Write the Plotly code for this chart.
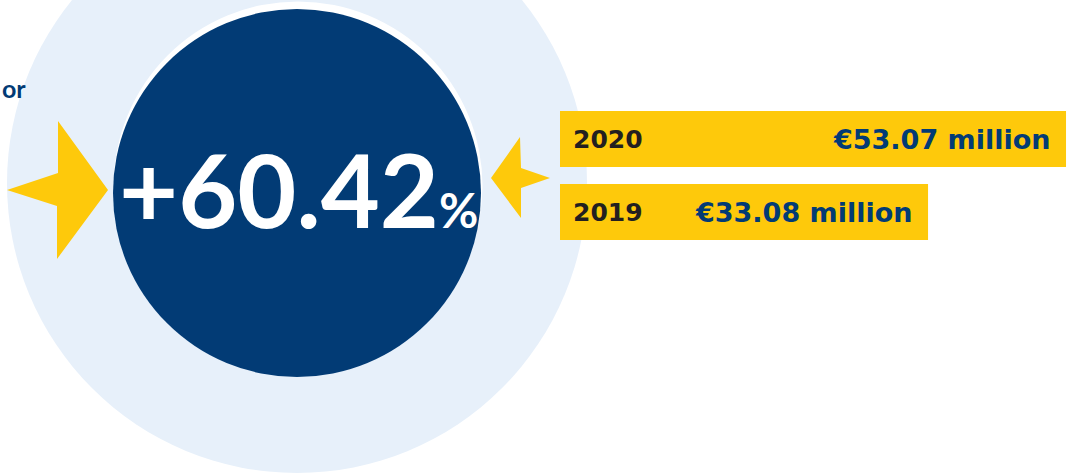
import plotly.graph_objects as go

# ---- data ----
years = ["2020", "2019"]
values = [53.07, 33.08]          # € million
growth_label = "+60.42"          # % change 2019 -> 2020
cut_text = "or"                  # cropped caption fragment at left

# ---- styling ----
W, H = 1067, 475
DARK_BLUE = "#023B75"
LIGHT_BLUE = "#E7F0FA"
YELLOW = "#FEC90B"
DARK_TEXT = "#231F20"

BAR_AXIS_MIN = -20.24
BAR_AXIS_MAX = 53.21

fig = go.Figure()

fig.add_trace(go.Bar(
    y=years, x=[v - BAR_AXIS_MIN for v in values], base=BAR_AXIS_MIN,
    orientation="h", marker=dict(color=YELLOW, line=dict(width=0)),
    xaxis="x2", yaxis="y2", hoverinfo="skip", showlegend=False,
))

shapes = [
    dict(type="circle", xref="x", yref="y", x0=297 - 290, x1=297 + 290,
         y0=183 - 290, y1=183 + 290, fillcolor=LIGHT_BLUE, line=dict(width=0), layer="below"),
    dict(type="circle", xref="x", yref="y", x0=298 - 184.5, x1=298 + 184.5,
         y0=186 - 184.5, y1=186 + 184.5, fillcolor="white", line=dict(width=0), layer="below"),
    dict(type="circle", xref="x", yref="y", x0=297 - 184, x1=297 + 184,
         y0=193 - 184, y1=193 + 184, fillcolor=DARK_BLUE, line=dict(width=0), layer="below"),
    dict(type="path", xref="x", yref="y",
         path="M 58 121 L 108 190 L 57 259 L 57 206 L 7 190 L 58 173 Z",
         fillcolor=YELLOW, line=dict(width=0), layer="below"),
    dict(type="path", xref="x", yref="y",
         path="M 520 137 L 491 178 L 521 218 L 521 188 L 550 178 L 521 168 Z",
         fillcolor=YELLOW, line=dict(width=0), layer="below"),
]

annotations = [
    dict(xref="x", yref="y", x=298, y=188, xanchor="center", yanchor="middle",
         text=growth_label + "<span style='font-size:48px'>%</span>", showarrow=False,
         font=dict(family="Lato", size=102, color="white", weight=700)),
    dict(xref="x", yref="y", x=0, y=88, xanchor="left", yanchor="middle",
         text=cut_text, showarrow=False,
         font=dict(family="Lato", size=25, color=DARK_BLUE, weight=700)),
]
for i, (yr, v) in enumerate(zip(years, values)):
    annotations.append(dict(xref="x2", yref="y2", x=BAR_AXIS_MIN + 0.01, y=i, xanchor="left",
                            yanchor="middle", xshift=11, text=yr, showarrow=False,
                            font=dict(family="DejaVu Sans", size=25, color=DARK_TEXT, weight=700)))
    annotations.append(dict(xref="x2", yref="y2", x=v, y=i, xanchor="right",
                            yanchor="middle", xshift=-13, text=f"€{v:.2f} million", showarrow=False,
                            font=dict(family="DejaVu Sans", size=27, color=DARK_BLUE, weight=700)))

hidden = dict(showgrid=False, zeroline=False, showticklabels=False, ticks="",
              showline=False, fixedrange=True)

fig.update_layout(
    width=W, height=H, margin=dict(l=0, r=0, t=0, b=0),
    paper_bgcolor="white", plot_bgcolor="rgba(0,0,0,0)",
    xaxis=dict(range=[0, W], domain=[0, 1], **hidden),
    yaxis=dict(range=[H, 0], domain=[0, 1], **hidden),
    xaxis2=dict(range=[BAR_AXIS_MIN, BAR_AXIS_MAX], domain=[560 / W, 1], anchor="y2", **hidden),
    yaxis2=dict(type="category", categoryorder="array", categoryarray=years,
                range=[1.5, -0.5], domain=[1 - 248.5 / H, 1 - 102.5 / H], anchor="x2", **hidden),
    bargap=1 - 56 / 73,
    shapes=shapes, annotations=annotations,
    showlegend=False,
)

fig.write_html("out.html", config={"displayModeBar": False},
               post_script="document.body.style.margin='0';document.body.style.overflow='hidden';")
